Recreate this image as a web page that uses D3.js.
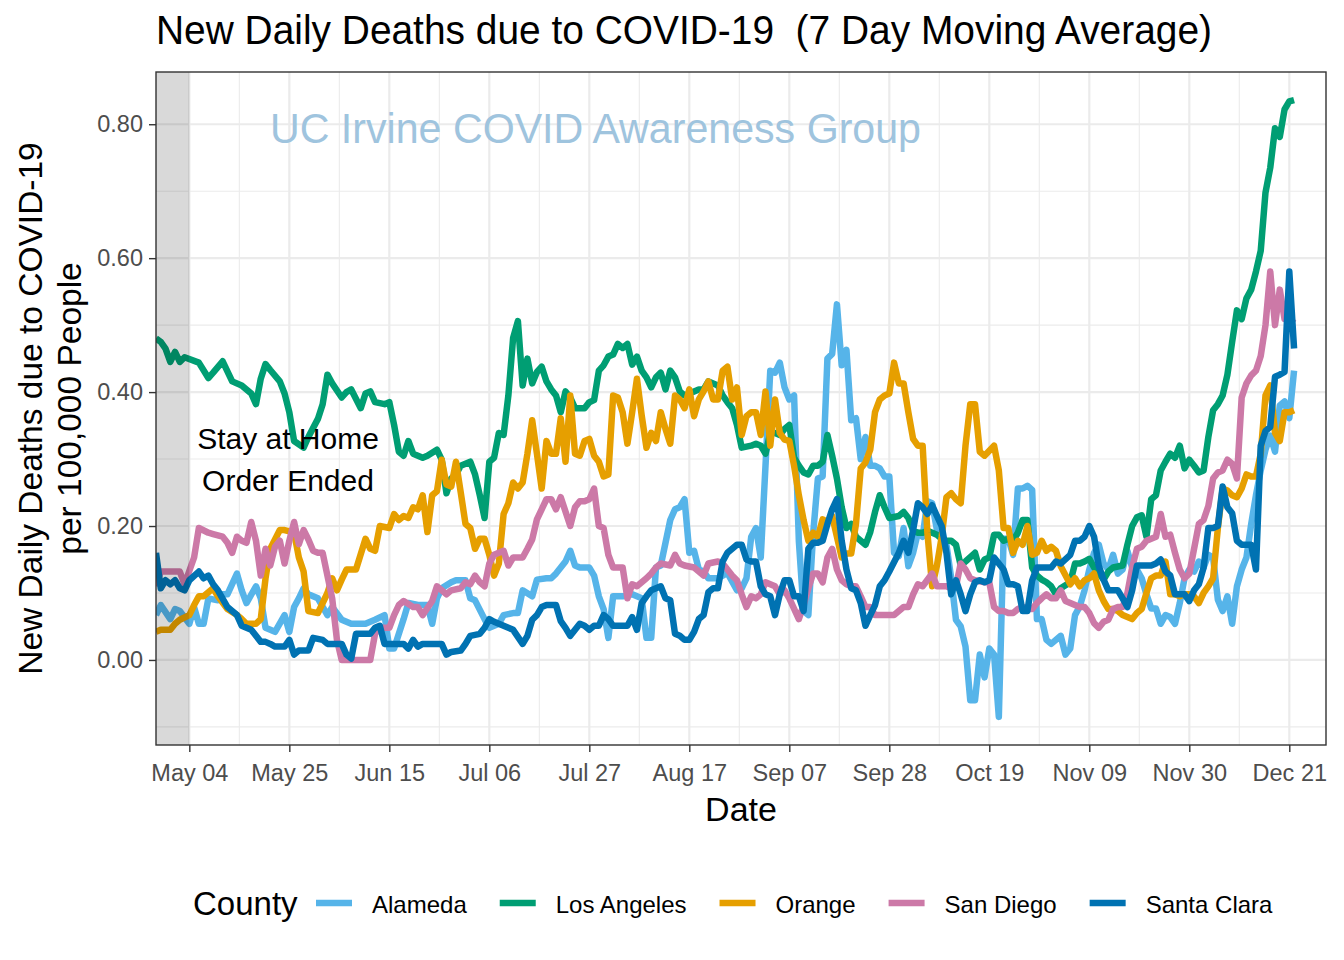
<!DOCTYPE html>
<html>
<head>
<meta charset="utf-8">
<script src="https://cdn.jsdelivr.net/npm/d3@7"></script>
<style>
  body { margin: 0; background: #fff; }
  text { font-family: "Liberation Sans", Arial, sans-serif; }
</style>
</head>
<body>
<div id="chart"></div>
<script>
// ---- data (day offset from START, 7-day avg deaths per 100k) ----
const START = "2020-04-27";
const X_END = "2020-12-28T17:00:00Z";
const ORDER_ENDED = "2020-05-04";
const tickDates = ["2020-05-04", "2020-05-25", "2020-06-15", "2020-07-06", "2020-07-27", "2020-08-17",
  "2020-09-07", "2020-09-28", "2020-10-19", "2020-11-09", "2020-11-30", "2020-12-21"];
const yTicks = [0, 0.2, 0.4, 0.6, 0.8];
const yMinor = [-0.1, 0.1, 0.3, 0.5, 0.7];
const counties = ["Alameda", "Los Angeles", "Orange", "San Diego", "Santa Clara"];
const colors = ["#56B4E9", "#009E73", "#E69F00", "#CC79A7", "#0072B2"];

const alameda = [[0,.067],[1,.082],[3,.061],[4,.076],[5,.073],[7,.054],[8,.079],[9,.054],[10,.054],[11,.092],[13,.089],[14,.098],[15,.098],[17,.129],[18,.104],[19,.085],[21,.11],[22,.092],[23,.048],[25,.042],[27,.067],[28,.042],[29,.079],[30,.092],[31,.107],[32,.098],[34,.092],[36,.067],[37,.079],[39,.06],[41,.054],[44,.054],[46,.06],[48,.067],[49,.017],[50,.017],[52,.061],[53,.085],[55,.082],[57,.082],[58,.054],[59,.092],[60,.107],[62,.116],[63,.119],[65,.119],[66,.092],[67,.089],[69,.061],[70,.048],[72,.054],[73,.067],[75,.07],[76,.07],[77,.104],[79,.095],[80,.12],[82,.122],[83,.122],[84,.129],[86,.147],[87,.163],[88,.141],[89,.138],[91,.138],[92,.126],[93,.095],[94,.076],[95,.033],[96,.095],[98,.095],[100,.098],[101,.095],[102,.092],[103,.033],[104,.033],[105,.138],[106,.141],[107,.175],[108,.209],[109,.225],[110,.228],[111,.24],[112,.16],[113,.163],[114,.135],[115,.132],[116,.122],[118,.122],[119,.126],[120,.13],[122,.104],[123,.107],[124,.122],[125,.184],[126,.197],[127,.153],[128,.29],[129,.432],[130,.429],[131,.444],[132,.407],[133,.389],[134,.395],[135,.178],[136,.073],[137,.067],[138,.188],[139,.271],[140,.274],[141,.45],[142,.457],[143,.531],[144,.44],[145,.463],[146,.358],[147,.361],[148,.30],[149,.333],[150,.29],[151,.29],[152,.286],[153,.274],[154,.274],[155,.16],[156,.155],[157,.197],[158,.14],[159,.16],[160,.19],[161,.184],[162,.237],[163,.234],[164,.194],[165,.181],[166,.172],[167,.122],[168,.06],[169,.05],[170,.02],[171,-.06],[172,-.06],[173,.008],[174,-.026],[175,.017],[176,.008],[177,-.085],[178,.181],[179,.181],[180,.157],[181,.256],[182,.256],[183,.26],[184,.254],[185,.061],[186,.061],[187,.03],[188,.024],[190,.036],[191,.008],[192,.017],[193,.067],[194,.08],[195,.104],[196,.135],[197,.16],[198,.172],[199,.144],[200,.135],[201,.157],[202,.129],[203,.135],[204,.163],[205,.138],[206,.135],[207,.122],[208,.098],[209,.077],[210,.077],[211,.054],[212,.067],[213,.064],[214,.054],[215,.085],[216,.122],[217,.135],[218,.132],[219,.147],[220,.138],[221,.157],[222,.153],[223,.09],[224,.073],[225,.095],[226,.054],[227,.11],[228,.135],[229,.153],[230,.203],[231,.246],[232,.283],[233,.314],[234,.335],[235,.311],[236,.38],[237,.386],[238,.361],[239,.432]];

const losAngeles = [[0,.48],[1,.475],[2,.465],[3,.445],[4,.46],[5,.445],[6,.452],[9,.444],[11,.421],[12,.429],[14,.446],[16,.416],[18,.41],[20,.398],[21,.382],[22,.42],[23,.442],[24,.433],[26,.416],[27,.398],[28,.37],[29,.327],[31,.317],[32,.333],[34,.36],[35,.382],[36,.426],[37,.413],[39,.392],[40,.40],[41,.404],[43,.376],[44,.398],[45,.401],[46,.385],[48,.382],[49,.385],[50,.351],[51,.311],[52,.305],[53,.327],[54,.308],[56,.302],[57,.305],[59,.314],[60,.299],[61,.249],[62,.271],[63,.277],[64,.29],[66,.296],[67,.277],[68,.246],[69,.212],[70,.296],[71,.302],[72,.339],[73,.336],[74,.395],[75,.481],[76,.506],[77,.41],[78,.45],[79,.413],[80,.43],[81,.438],[82,.416],[83,.404],[84,.395],[85,.37],[86,.401],[87,.392],[88,.376],[90,.376],[91,.385],[92,.388],[93,.432],[94,.44],[95,.453],[96,.456],[97,.472],[98,.466],[99,.472],[100,.441],[101,.453],[102,.432],[103,.422],[104,.407],[105,.422],[106,.429],[107,.404],[108,.432],[109,.422],[110,.401],[111,.395],[112,.398],[114,.404],[115,.404],[116,.416],[118,.41],[119,.395],[120,.385],[121,.376],[122,.351],[123,.317],[125,.32],[126,.323],[127,.32],[128,.308],[129,.339],[130,.339],[131,.336],[132,.345],[133,.351],[134,.302],[135,.29],[136,.28],[137,.277],[138,.29],[139,.29],[140,.296],[141,.336],[142,.305],[143,.271],[144,.228],[145,.197],[146,.203],[147,.184],[149,.172],[150,.191],[151,.221],[152,.246],[153,.228],[154,.212],[156,.215],[157,.221],[158,.212],[159,.193],[160,.19],[161,.19],[162,.193],[163,.19],[164,.187],[165,.181],[166,.178],[167,.178],[168,.172],[169,.141],[170,.147],[172,.16],[173,.135],[174,.15],[175,.153],[176,.187],[177,.187],[178,.178],[179,.181],[180,.178],[181,.19],[182,.209],[183,.209],[184,.138],[185,.126],[186,.12],[187,.116],[188,.11],[189,.098],[190,.107],[192,.116],[193,.144],[194,.144],[195,.147],[196,.151],[197,.138],[198,.129],[199,.12],[200,.132],[201,.138],[203,.141],[204,.172],[205,.2],[206,.213],[207,.216],[208,.184],[209,.24],[210,.246],[211,.283],[212,.296],[213,.308],[214,.302],[215,.32],[216,.286],[217,.299],[218,.29],[219,.28],[220,.283],[221,.333],[222,.373],[223,.382],[224,.395],[225,.426],[226,.475],[227,.522],[228,.509],[229,.54],[230,.553],[231,.58],[232,.611],[233,.698],[234,.735],[235,.794],[236,.781],[237,.822],[238,.834],[239,.836]];

const orange = [[0,.042],[1,.045],[3,.045],[4,.054],[5,.06],[7,.067],[8,.082],[9,.095],[10,.095],[11,.101],[12,.107],[13,.095],[15,.076],[17,.067],[18,.061],[19,.054],[21,.054],[22,.061],[23,.122],[24,.166],[26,.194],[27,.194],[29,.19],[30,.153],[31,.132],[32,.073],[34,.07],[36,.1],[37,.122],[38,.104],[39,.12],[40,.135],[42,.135],[44,.181],[45,.166],[46,.163],[47,.2],[49,.197],[50,.218],[51,.209],[52,.215],[53,.212],[54,.228],[55,.225],[56,.246],[57,.191],[58,.246],[59,.252],[60,.299],[61,.262],[62,.259],[63,.296],[64,.25],[65,.203],[66,.197],[67,.166],[68,.181],[69,.181],[70,.157],[71,.126],[72,.144],[73,.218],[74,.234],[75,.265],[76,.256],[77,.265],[78,.308],[79,.358],[80,.308],[81,.256],[82,.327],[83,.308],[84,.308],[85,.361],[86,.296],[87,.395],[88,.308],[89,.305],[90,.327],[91,.33],[92,.305],[93,.296],[94,.274],[95,.277],[96,.395],[97,.392],[98,.37],[99,.323],[100,.37],[101,.42],[102,.365],[103,.317],[104,.339],[105,.327],[106,.37],[107,.345],[108,.323],[109,.395],[110,.389],[111,.376],[112,.404],[113,.364],[114,.389],[115,.401],[116,.416],[117,.389],[118,.389],[119,.432],[120,.438],[121,.389],[122,.407],[123,.336],[124,.364],[125,.37],[126,.37],[127,.336],[128,.401],[129,.32],[130,.389],[131,.339],[132,.329],[133,.327],[134,.29],[135,.246],[136,.209],[137,.178],[138,.19],[139,.184],[140,.21],[141,.206],[142,.215],[143,.184],[144,.153],[145,.159],[146,.159],[147,.203],[148,.286],[149,.295],[150,.314],[151,.37],[152,.389],[153,.395],[154,.398],[155,.444],[156,.413],[157,.413],[158,.37],[159,.33],[160,.32],[161,.32],[162,.19],[163,.11],[164,.141],[165,.184],[166,.243],[167,.249],[168,.24],[169,.234],[170,.32],[171,.382],[172,.382],[173,.311],[174,.305],[176,.32],[177,.283],[178,.197],[179,.197],[180,.16],[181,.178],[182,.172],[183,.2],[184,.157],[185,.16],[186,.178],[187,.163],[188,.169],[189,.163],[190,.14],[192,.113],[193,.122],[194,.11],[195,.119],[196,.122],[197,.129],[198,.104],[199,.088],[200,.076],[201,.076],[202,.073],[203,.067],[204,.064],[205,.061],[206,.07],[207,.076],[208,.1],[209,.122],[210,.126],[211,.126],[212,.147],[213,.098],[214,.098],[215,.095],[216,.098],[217,.098],[218,.095],[219,.085],[220,.1],[221,.11],[222,.122],[223,.197],[224,.256],[225,.253],[226,.246],[227,.243],[228,.256],[229,.277],[230,.274],[231,.274],[232,.308],[233,.395],[234,.41],[235,.339],[236,.327],[237,.37],[238,.37],[239,.373]];

const sanDiego = [[0,.11],[1,.132],[3,.132],[5,.132],[6,.113],[8,.153],[9,.197],[11,.19],[12,.188],[14,.184],[15,.175],[16,.16],[17,.184],[18,.178],[19,.175],[20,.206],[21,.178],[22,.126],[23,.166],[24,.141],[25,.169],[26,.178],[27,.144],[28,.178],[29,.206],[30,.173],[31,.194],[32,.18],[33,.163],[34,.16],[35,.16],[37,.092],[38,.03],[39,0],[45,0],[46,.039],[47,.048],[49,.048],[50,.067],[51,.082],[52,.088],[54,.079],[55,.079],[56,.067],[58,.088],[59,.11],[61,.098],[62,.104],[64,.107],[65,.116],[66,.113],[67,.126],[68,.116],[69,.11],[70,.144],[71,.157],[73,.163],[74,.141],[75,.153],[77,.153],[78,.166],[79,.18],[80,.21],[81,.225],[82,.24],[83,.24],[84,.225],[85,.243],[87,.2],[88,.228],[89,.237],[90,.237],[91,.24],[92,.256],[93,.2],[94,.197],[95,.157],[96,.138],[97,.138],[98,.138],[99,.092],[100,.113],[101,.11],[103,.122],[104,.129],[105,.138],[106,.144],[108,.141],[109,.157],[110,.144],[111,.141],[113,.138],[114,.132],[115,.126],[116,.144],[118,.147],[119,.144],[120,.135],[121,.126],[122,.119],[123,.098],[124,.079],[125,.095],[126,.092],[127,.098],[128,.116],[129,.113],[130,.11],[131,.098],[132,.104],[133,.092],[135,.061],[136,.082],[137,.107],[138,.129],[139,.129],[140,.116],[141,.153],[142,.166],[143,.135],[144,.119],[145,.113],[146,.11],[147,.11],[148,.095],[149,.079],[150,.079],[151,.067],[153,.067],[155,.067],[157,.079],[158,.079],[159,.098],[160,.113],[161,.11],[163,.129],[164,.11],[165,.11],[166,.11],[167,.107],[168,.11],[169,.144],[170,.135],[171,.122],[172,.119],[174,.116],[175,.116],[176,.079],[177,.073],[178,.073],[179,.07],[180,.07],[181,.076],[182,.079],[184,.076],[185,.085],[186,.092],[187,.098],[188,.092],[189,.092],[190,.104],[191,.088],[193,.082],[194,.079],[195,.079],[196,.07],[197,.055],[198,.048],[199,.057],[200,.06],[201,.076],[202,.079],[203,.079],[204,.10],[205,.138],[206,.166],[207,.169],[208,.178],[209,.181],[210,.184],[211,.218],[212,.184],[213,.187],[214,.16],[215,.135],[216,.122],[217,.129],[218,.166],[219,.203],[220,.209],[221,.23],[222,.271],[223,.28],[224,.283],[225,.299],[226,.293],[227,.271],[228,.392],[229,.413],[230,.425],[231,.432],[232,.454],[233,.5],[234,.58],[235,.5],[236,.553],[237,.509],[238,.51],[239,.503]];

const santaClara = [[0,.16],[1,.107],[2,.119],[3,.113],[4,.119],[5,.107],[6,.104],[7,.119],[9,.132],[10,.122],[11,.126],[12,.113],[13,.104],[15,.079],[17,.067],[18,.051],[19,.048],[20,.045],[22,.027],[23,.027],[24,.024],[25,.02],[27,.02],[28,.03],[29,.008],[30,.014],[32,.014],[33,.033],[35,.03],[36,.024],[38,.024],[39,.024],[40,.008],[41,.002],[42,.039],[43,.039],[45,.039],[46,.048],[47,.051],[48,.024],[50,.024],[52,.024],[53,.017],[54,.03],[55,.02],[56,.024],[58,.024],[60,.024],[61,.008],[62,.012],[64,.014],[65,.024],[66,.036],[68,.039],[69,.048],[70,.061],[71,.057],[72,.054],[74,.048],[75,.045],[77,.024],[78,.036],[79,.06],[80,.067],[81,.079],[82,.082],[84,.082],[85,.058],[86,.048],[87,.036],[88,.045],[89,.054],[90,.051],[91,.045],[92,.051],[93,.051],[94,.067],[95,.061],[96,.051],[97,.051],[99,.051],[100,.064],[101,.045],[102,.085],[103,.095],[104,.104],[106,.11],[107,.092],[108,.089],[109,.039],[110,.036],[111,.03],[112,.03],[113,.042],[114,.061],[115,.067],[116,.101],[117,.107],[118,.107],[119,.147],[120,.16],[122,.172],[123,.172],[124,.15],[125,.147],[126,.147],[127,.11],[128,.098],[129,.095],[130,.067],[131,.098],[132,.119],[133,.119],[134,.095],[135,.095],[136,.073],[137,.166],[138,.175],[139,.175],[140,.178],[141,.203],[142,.225],[143,.24],[144,.178],[145,.135],[146,.107],[147,.104],[148,.085],[149,.051],[150,.067],[151,.082],[152,.11],[153,.119],[154,.132],[156,.16],[157,.178],[158,.16],[159,.194],[160,.234],[161,.228],[162,.218],[163,.231],[164,.215],[165,.2],[166,.16],[167,.098],[168,.119],[169,.098],[170,.073],[171,.098],[172,.116],[173,.119],[174,.116],[175,.119],[176,.153],[178,.135],[179,.113],[180,.113],[181,.11],[182,.073],[183,.073],[184,.119],[185,.138],[186,.138],[187,.138],[188,.138],[189,.147],[190,.144],[192,.157],[193,.178],[194,.178],[195,.184],[196,.2],[197,.184],[198,.14],[199,.12],[200,.104],[201,.104],[202,.104],[203,.092],[204,.079],[205,.104],[206,.141],[207,.141],[208,.141],[209,.141],[210,.144],[211,.15],[212,.132],[213,.126],[214,.098],[215,.098],[216,.098],[217,.088],[218,.104],[219,.113],[220,.138],[221,.197],[222,.197],[223,.2],[224,.259],[225,.228],[226,.219],[227,.178],[228,.172],[229,.172],[230,.172],[231,.135],[232,.32],[233,.342],[234,.348],[235,.423],[236,.426],[237,.43],[238,.58],[239,.465]];

const seriesData = [alameda, losAngeles, orange, sanDiego, santaClara];

// ---- layout ----
const W = 1344, H = 960;
const margin = { top: 72, right: 18, bottom: 215, left: 156 };
const width = W - margin.left - margin.right;
const height = H - margin.top - margin.bottom;

const parseDay = d3.utcParse("%Y-%m-%d");
const start = parseDay(START);

const svg = d3.select("#chart").append("svg")
  .attr("width", W).attr("height", H)
  .style("background", "#fff");

const g = svg.append("g").attr("transform", `translate(${margin.left},${margin.top})`);

const x = d3.scaleUtc().domain([start, new Date(X_END)]).range([0, width]);
const y = d3.scaleLinear().domain([-0.127, 0.878]).range([height, 0]);

const majors = tickDates.map(parseDay);
const minors = majors.map(d => d3.utcHour.offset(d, 252))
  .filter(d => d < x.domain()[1]);

// grid
g.append("g").selectAll("line").data(yMinor).join("line")
  .attr("x1", 0).attr("x2", width)
  .attr("y1", d => y(d)).attr("y2", d => y(d))
  .attr("stroke", "#ebebeb").attr("stroke-width", 1.1);
g.append("g").selectAll("line").data(minors).join("line")
  .attr("y1", 0).attr("y2", height)
  .attr("x1", d => x(d)).attr("x2", d => x(d))
  .attr("stroke", "#ebebeb").attr("stroke-width", 1.1);
g.append("g").selectAll("line").data(yTicks).join("line")
  .attr("x1", 0).attr("x2", width)
  .attr("y1", d => y(d)).attr("y2", d => y(d))
  .attr("stroke", "#ebebeb").attr("stroke-width", 2.2);
g.append("g").selectAll("line").data(majors).join("line")
  .attr("y1", 0).attr("y2", height)
  .attr("x1", d => x(d)).attr("x2", d => x(d))
  .attr("stroke", "#ebebeb").attr("stroke-width", 2.2);

// lines
svg.append("clipPath").attr("id", "panel")
  .append("rect").attr("width", width).attr("height", height);

const line = d3.line()
  .x(d => x(d3.utcDay.offset(start, d[0])))
  .y(d => y(d[1]));

const lines = g.append("g").attr("clip-path", "url(#panel)");
seriesData.forEach((s, i) => {
  lines.append("path")
    .datum(s)
    .attr("fill", "none")
    .attr("stroke", colors[i])
    .attr("stroke-width", 6.5)
    .attr("stroke-linejoin", "round")
    .attr("d", line);
});

// stay-at-home shading
g.append("rect")
  .attr("x", 0).attr("y", 0)
  .attr("width", x(parseDay(ORDER_ENDED)))
  .attr("height", height)
  .attr("fill", "#000").attr("fill-opacity", 0.15);

// watermark
g.append("text")
  .attr("x", 114).attr("y", 71)
  .attr("textLength", 651).attr("lengthAdjust", "spacingAndGlyphs")
  .style("font-size", "42px").style("fill", "#9fc4de")
  .text("UC Irvine COVID Awareness Group");

// annotation
const note = g.append("text")
  .attr("text-anchor", "middle")
  .style("font-size", "30px").style("fill", "#000");
note.append("tspan").attr("x", 132).attr("y", 377).text("Stay at Home");
note.append("tspan").attr("x", 132).attr("y", 419).text("Order Ended");

// panel border
g.append("rect").attr("width", width).attr("height", height)
  .attr("fill", "none").attr("stroke", "#333333").attr("stroke-width", 1.4);

// axes
const xAxis = g.append("g")
  .attr("transform", `translate(0,${height})`)
  .call(d3.axisBottom(x).tickValues(majors).tickFormat(d3.utcFormat("%b %d")).tickSize(7).tickPadding(12));
const yAxis = g.append("g")
  .call(d3.axisLeft(y).tickValues(yTicks).tickFormat(d3.format(".2f")).tickSize(7).tickPadding(6));
[xAxis, yAxis].forEach(a => {
  a.select(".domain").remove();
  a.selectAll(".tick line").attr("stroke", "#333333").attr("stroke-width", 1.4);
  a.selectAll(".tick text")
    .attr("fill", "#4d4d4d")
    .style("font-family", "'Liberation Sans', Arial, sans-serif")
    .style("font-size", "23.5px");
});
xAxis.selectAll(".tick text").attr("dy", "0.71em");

// titles
svg.append("text")
  .attr("x", 156).attr("y", 44)
  .attr("textLength", 1056).attr("lengthAdjust", "spacingAndGlyphs")
  .style("font-size", "41px")
  .style("white-space", "pre")
  .text("New Daily Deaths due to COVID-19  (7 Day Moving Average)");

svg.append("text")
  .attr("x", margin.left + width / 2).attr("y", 821)
  .attr("text-anchor", "middle")
  .style("font-size", "34px")
  .text("Date");

const yTitle = svg.append("text")
  .attr("transform", `translate(0,${margin.top + height / 2}) rotate(-90)`)
  .attr("text-anchor", "middle")
  .style("font-size", "33.5px");
yTitle.append("tspan").attr("x", 0).attr("y", 42).text("New Daily Deaths due to COVID-19");
yTitle.append("tspan").attr("x", 0).attr("y", 81).text("per 100,000 People");

// legend
const legend = svg.append("g");
legend.append("text")
  .attr("x", 193).attr("y", 915)
  .style("font-size", "33px")
  .text("County");

let kx = 316;
counties.forEach((c, i) => {
  legend.append("line")
    .attr("x1", kx).attr("x2", kx + 36)
    .attr("y1", 903).attr("y2", 903)
    .attr("stroke", colors[i]).attr("stroke-width", 6.5);
  const t = legend.append("text")
    .attr("x", kx + 56).attr("y", 913)
    .style("font-size", "24px")
    .text(c);
  kx = kx + 56 + t.node().getComputedTextLength() + 33;
});
</script>
</body>
</html>
